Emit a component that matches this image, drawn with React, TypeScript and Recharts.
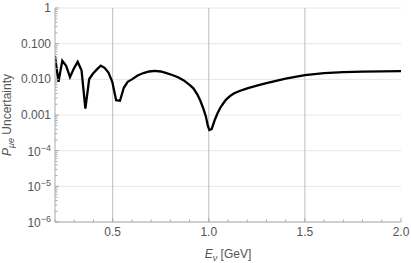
import { LineChart, Line, XAxis, YAxis, CartesianGrid, Label } from 'recharts';

// neutrino energy (GeV)
const energy = [
  0.2, 0.218, 0.238, 0.258, 0.278, 0.298, 0.318, 0.338, 0.358, 0.378,
  0.398, 0.418, 0.438, 0.458, 0.478, 0.498, 0.518, 0.538, 0.558, 0.578,
  0.598, 0.63, 0.66, 0.69, 0.72, 0.75, 0.78, 0.81, 0.84, 0.87,
  0.9, 0.92, 0.94, 0.955, 0.97, 0.985, 0.995, 1.003, 1.015, 1.03,
  1.045, 1.06, 1.075, 1.09, 1.11, 1.13, 1.16, 1.2, 1.25, 1.3,
  1.35, 1.4, 1.45, 1.5, 1.6, 1.7, 1.8, 1.9, 2.0,
];

// P_mue uncertainty
const uncertainty = [
  0.045, 0.0085, 0.033, 0.024, 0.0115, 0.02, 0.031, 0.018, 0.0015, 0.0102,
  0.0145, 0.019, 0.024, 0.021, 0.0155, 0.0085, 0.0026, 0.0025, 0.0058, 0.0085,
  0.0098, 0.0128, 0.015, 0.0166, 0.0172, 0.0166, 0.015, 0.0132, 0.0114, 0.0093,
  0.007, 0.0056, 0.0038, 0.0026, 0.0016, 0.0009, 0.0005, 0.00038, 0.0004, 0.0007,
  0.0011, 0.0016, 0.0021, 0.0027, 0.0034, 0.004, 0.0047, 0.0056, 0.0067, 0.0078,
  0.0091, 0.0104, 0.0118, 0.0132, 0.0149, 0.0159, 0.0164, 0.0167, 0.0169,
];

const xTicks = [0.2, 0.3, 0.4, 0.5, 0.6, 0.7, 0.8, 0.9, 1.0, 1.1, 1.2, 1.3, 1.4, 1.5, 1.6, 1.7, 1.8, 1.9, 2.0];
const xMajor = [0.5, 1.0, 1.5, 2.0];
const xGrid = [0.5, 1.0, 1.5];

const yDecades = [1e-6, 1e-5, 1e-4, 1e-3, 1e-2, 1e-1, 1];
const yLabels = ['10|−6', '10|−5', '10|−4', '0.001', '0.010', '0.100', '1'];

const yTicks: number[] = [];
yDecades.forEach((d, i) => {
  yTicks.push(d);
  if (i < yDecades.length - 1) {
    for (let m = 2; m <= 9; m++) yTicks.push(d * m);
  }
});

const data = energy.map((e, i) => ({ e, u: uncertainty[i] }));

const FONT = '"Liberation Sans", Arial, sans-serif';
const TXT = '#555';
const FRAME = '#aaa';

const isMajorX = (v: number) => xMajor.some((m) => Math.abs(m - v) < 1e-6);
const decadeIndex = (v: number) => yDecades.findIndex((d) => Math.abs(d - v) / d < 1e-6);

function BottomTick(props: any) {
  const { x, y, payload } = props;
  const major = isMajorX(payload.value);
  return (
    <g>
      <line x1={x} x2={x} y1={y} y2={y - (major ? 4 : 2.5)} stroke={FRAME} />
      {major && (
        <text x={x} y={y + 14} textAnchor="middle" fontSize={12} fill={TXT} fontFamily={FONT}>
          {payload.value.toFixed(1)}
        </text>
      )}
    </g>
  );
}

function TopTick(props: any) {
  const { x, y, payload } = props;
  const major = isMajorX(payload.value);
  return <line x1={x} x2={x} y1={y} y2={y + (major ? 4 : 2.5)} stroke={FRAME} />;
}

function LeftTick(props: any) {
  const { x, y, payload } = props;
  const idx = decadeIndex(payload.value);
  const major = idx >= 0;
  let label = null;
  if (major) {
    const s = yLabels[idx];
    if (s.includes('|')) {
      const [base, exp] = s.split('|');
      label = (
        <text x={x - 4} y={y + 5} textAnchor="end" fontSize={12} fill={TXT} fontFamily={FONT}>
          {base}
          <tspan dy={-5} fontSize={9}>{exp}</tspan>
        </text>
      );
    } else {
      label = (
        <text x={x - 4} y={y + 4} textAnchor="end" fontSize={12} fill={TXT} fontFamily={FONT}>
          {s}
        </text>
      );
    }
  }
  return (
    <g>
      <line x1={x} x2={x + (major ? 4 : 2.5)} y1={y} y2={y} stroke={FRAME} />
      {label}
    </g>
  );
}

function RightTick(props: any) {
  const { x, y, payload } = props;
  const major = decadeIndex(payload.value) >= 0;
  return <line x1={x} x2={x - (major ? 4 : 2.5)} y1={y} y2={y} stroke={FRAME} />;
}

function XTitle(props: any) {
  const { x, y, width } = props.viewBox;
  return (
    <text x={x + width / 2} y={y + 36} textAnchor="middle" fontSize={12} fill={TXT} fontFamily={FONT}>
      <tspan fontStyle="italic">E</tspan>
      <tspan fontStyle="italic" fontSize={9} dy={3}>ν</tspan>
      <tspan dy={-3}> [GeV]</tspan>
    </text>
  );
}

function YTitle(props: any) {
  const { x, y, height } = props.viewBox;
  const cx = x + 11;
  const cy = y + height / 2;
  return (
    <text
      x={cx}
      y={cy}
      transform={`rotate(-90 ${cx} ${cy})`}
      textAnchor="middle"
      fontSize={12}
      fill={TXT}
      fontFamily={FONT}
    >
      <tspan fontStyle="italic">P</tspan>
      <tspan fontStyle="italic" fontSize={9} dy={3}>μe</tspan>
      <tspan dy={-3}> Uncertainty</tspan>
    </text>
  );
}

export default function App() {
  return (
    <div style={{ position: 'absolute', left: 0, top: 0, background: '#fff' }}>
      <LineChart width={411} height={263} data={data} margin={{ top: 8, right: 10, left: 0, bottom: 0 }}>
        <CartesianGrid horizontal={true} vertical={false} horizontalValues={yDecades} stroke="#e6e6e6" />
        <CartesianGrid horizontal={false} vertical={true} verticalValues={xGrid} stroke="#bdbdbd" />
        <XAxis
          dataKey="e"
          type="number"
          domain={[0.2, 2.0]}
          ticks={xTicks}
          interval={0}
          allowDataOverflow
          height={41}
          stroke={FRAME}
          tickLine={false}
          tickSize={0}
          tickMargin={0}
          tick={<BottomTick />}
        >
          <Label content={<XTitle />} />
        </XAxis>
        <XAxis
          xAxisId="top"
          orientation="top"
          dataKey="e"
          type="number"
          domain={[0.2, 2.0]}
          ticks={xTicks}
          interval={0}
          allowDataOverflow
          height={0}
          stroke={FRAME}
          tickLine={false}
          tickSize={0}
          tickMargin={0}
          tick={<TopTick />}
        />
        <YAxis
          scale="log"
          type="number"
          domain={[1e-6, 1]}
          ticks={yTicks}
          interval={0}
          allowDataOverflow
          width={55}
          stroke={FRAME}
          tickLine={false}
          tickSize={0}
          tickMargin={0}
          tick={<LeftTick />}
        >
          <Label content={<YTitle />} />
        </YAxis>
        <YAxis
          yAxisId="right"
          orientation="right"
          scale="log"
          type="number"
          domain={[1e-6, 1]}
          ticks={yTicks}
          interval={0}
          allowDataOverflow
          width={0}
          stroke={FRAME}
          tickLine={false}
          tickSize={0}
          tickMargin={0}
          tick={<RightTick />}
        />
        <Line
          type="linear"
          dataKey="u"
          stroke="#000"
          strokeWidth={2.3}
          dot={false}
          isAnimationActive={false}
        />
      </LineChart>
    </div>
  );
}
